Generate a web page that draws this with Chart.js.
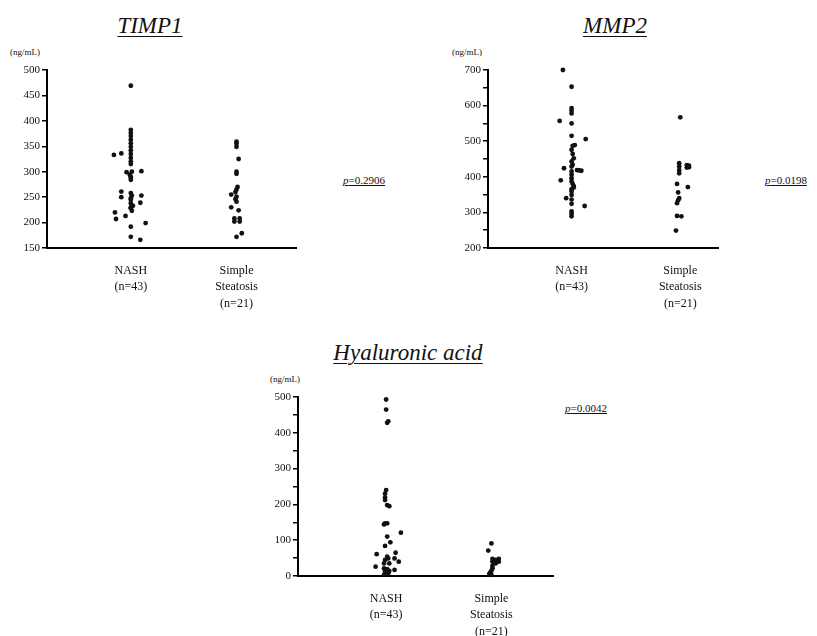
<!DOCTYPE html>
<html>
<head>
<meta charset="utf-8">
<script src="https://cdn.jsdelivr.net/npm/chart.js@4.4.0/dist/chart.umd.min.js"></script>
<style>
body { margin: 0; background: #fff; width: 817px; height: 636px; position: relative; overflow: hidden; font-family: "Liberation Serif", serif; color: #111; }
.titulo { position: absolute; font-style: italic; font-size: 23px; text-decoration: underline; text-decoration-thickness: 1px; text-underline-offset: 3px; white-space: nowrap; transform: translateX(-50%); }
.unidad { position: absolute; font-size: 9px; white-space: nowrap; }
.pval { position: absolute; font-size: 11px; text-decoration: underline; white-space: nowrap; z-index: 2; }
canvas { position: absolute; }
</style>
</head>
<body>
<div class="titulo" style="left:150px; top:13px">TIMP1</div>
<div class="titulo" style="left:615px; top:13px">MMP2</div>
<div class="titulo" style="left:408px; top:340px">Hyaluronic acid</div>

<div class="unidad" style="left:10px; top:47px">(ng/mL)</div>
<div class="unidad" style="left:452px; top:47px">(ng/mL)</div>
<div class="unidad" style="left:270px; top:374px">(ng/mL)</div>

<div class="pval" style="left:343px; top:174px"><i>p</i>=0.2906</div>
<div class="pval" style="left:765px; top:174px"><i>p</i>=0.0198</div>
<div class="pval" style="left:565px; top:402px"><i>p</i>=0.0042</div>

<canvas id="timp" width="293" height="260" style="left:7px; top:60px"></canvas>
<canvas id="mmp" width="274" height="260" style="left:448px; top:60px"></canvas>
<canvas id="hyal" width="299" height="249" style="left:258px; top:387px"></canvas>

<script>
// grupos del eje x
const groups = [['NASH', '(n=43)'], ['Simple', 'Steatosis', '(n=21)']];

// TIMP1 (ng/mL), desplazamientos en unidades de columna
const timpNash = [469, 382, 376, 370, 363, 356, 349, 342, 335, 327, 320, 315, 333, 336, 301, 299, 294, 300, 288, 284, 261, 250, 258, 253, 253, 239, 245, 238, 233, 228, 223, 220, 207, 213, 199, 192, 172, 166, 230, 248, 290];
const timpNashX = [0, 0, 0, 0, 0, 0, 0, 0, 0, 0, 0, 0, -0.16, -0.09, 0.10, -0.04, -0.01, 0.01, 0, 0, -0.09, -0.09, 0, 0.01, 0.10, 0.09, 0, 0, 0.02, 0, 0.01, -0.15, -0.14, -0.05, 0.14, 0, 0, 0.09, 0, 0, 0];
const timpSimple = [359, 355, 349, 325, 300, 296, 270, 265, 260, 255, 251, 246, 241, 230, 224, 208, 208, 202, 202, 179, 172];
const timpSimpleX = [0, 0, 0, 0.02, 0, 0, 0.01, 0, -0.01, -0.05, 0, -0.01, 0, -0.05, 0.02, -0.02, 0.03, -0.02, 0.03, 0.05, 0];

// MMP2 (ng/mL)
const mmpNash = [700, 653, 593, 586, 578, 557, 550, 515, 506, 489, 487, 476, 464, 452, 443, 434, 429, 424, 419, 418, 417, 415, 406, 396, 390, 387, 380, 374, 370, 365, 359, 349, 340, 336, 324, 318, 303, 296, 289];
const mmpNashX = [-0.08, 0, 0, 0, 0, -0.11, 0, 0, 0.13, 0.03, 0.01, 0, 0.01, 0.02, 0, 0.01, 0, -0.07, 0.05, 0.07, 0.09, 0, 0, 0, -0.10, 0, 0.01, 0.02, 0.02, 0, 0, 0, -0.05, 0, 0, 0.12, 0, 0, 0];
const mmpSimple = [567, 438, 429, 419, 410, 433, 431, 426, 427, 380, 371, 356, 340, 334, 326, 290, 289, 249];
const mmpSimpleX = [0, -0.01, -0.01, -0.01, -0.01, 0.06, 0.08, 0.06, 0.08, -0.03, 0.07, -0.02, -0.01, -0.02, -0.03, -0.03, 0.01, -0.04];

// Hyaluronic acid (ng/mL)
const hyalNash = [493, 465, 432, 428, 240, 230, 219, 212, 198, 195, 147, 144, 147, 121, 110, 94, 84, 61, 65, 54, 49, 45, 49, 40, 35, 35, 26, 21, 19, 12, 14, 17, 10, 8, 3];
const hyalNashX = [0, 0, 0.02, 0.01, 0, -0.01, -0.01, -0.01, 0.01, 0.03, -0.01, -0.02, 0.01, 0.14, 0.01, 0.04, -0.01, -0.09, 0.09, 0.01, 0.02, -0.01, 0.08, 0.12, -0.02, 0.03, -0.10, -0.02, 0.01, -0.01, 0.03, 0.08, 0, 0.02, -0.02];
const hyalSimple = [91, 71, 48, 48, 45, 40, 40, 35, 28, 21, 15, 10, 6, 3];
const hyalSimpleX = [0, -0.03, 0.01, 0.07, 0.04, 0.01, 0.07, 0.04, 0.01, 0.01, 0, -0.01, -0.02, 0];

function puntos(valores, desp, centro) {
    return valores.map((v, i) => ({ x: centro + desp[i], y: v }));
}

function crearPanel(id, nash, nashX, simple, simpleX, yMin, yMax, cadaEtiqueta, xMin, xMax, altoX) {
    new Chart(document.getElementById(id), {
        type: 'scatter',
        data: {
            datasets: [
                { data: puntos(nash, nashX, 1), backgroundColor: '#111', borderColor: '#111', clip: false },
                { data: puntos(simple, simpleX, 2), backgroundColor: '#111', borderColor: '#111', clip: false }
            ]
        },
        options: {
            animation: false,
            responsive: false,
            layout: { padding: { top: 10, right: 2, left: 0, bottom: 0 } },
            plugins: { legend: { display: false }, tooltip: { enabled: false } },
            elements: { point: { radius: 2.4, borderWidth: 0, pointStyle: 'circle' } },
            scales: {
                x: {
                    type: 'linear',
                    min: xMin,
                    max: xMax,
                    grid: { display: false, drawTicks: false },
                    border: { color: '#000', width: 2 },
                    afterBuildTicks: s => { s.ticks = [{ value: 1 }, { value: 2 }]; },
                    afterFit: s => { s.height = altoX; },
                    ticks: {
                        padding: 15,
                        color: '#111',
                        font: { family: 'Liberation Serif', size: 12, lineHeight: 1.35 },
                        callback: v => groups[Math.round(v) - 1]
                    }
                },
                y: {
                    min: yMin,
                    max: yMax,
                    afterFit: s => { s.width = 40; },
                    grid: { drawOnChartArea: false, color: '#000', tickLength: 5, lineWidth: 1.5 },
                    border: { color: '#000', width: 2 },
                    ticks: {
                        stepSize: 50,
                        padding: 2,
                        color: '#111',
                        font: { family: 'Liberation Serif', size: 11 },
                        callback: v => (v % cadaEtiqueta === 0 ? v : '')
                    }
                }
            }
        }
    });
}

crearPanel('timp', timpNash, timpNashX, timpSimple, timpSimpleX, 150, 500, 50, 0.207, 2.563, 72);
crearPanel('mmp', mmpNash, mmpNashX, mmpSimple, mmpSimpleX, 200, 700, 100, 0.231, 2.347, 72);
crearPanel('hyal', hyalNash, hyalNashX, hyalSimple, hyalSimpleX, 0, 500, 100, 0.163, 2.585, 60);
</script>
</body>
</html>
